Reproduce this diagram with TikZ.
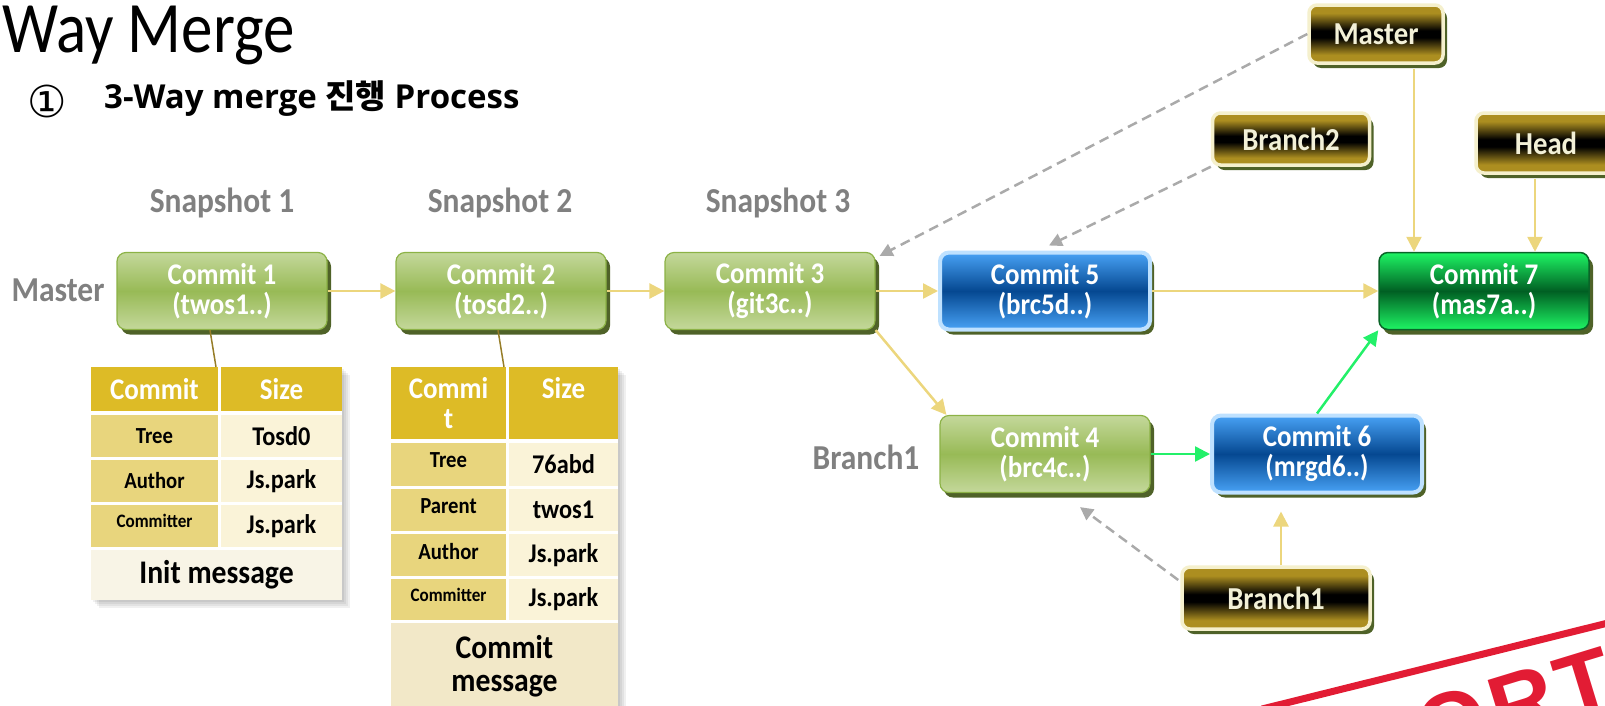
\documentclass[tikz,border=0pt]{standalone}
\usepackage{fontspec}
\usetikzlibrary{shadows,arrows.meta,calc}
\newfontfamily\cf{Carlito}[FakeStretch=0.9]
\newfontfamily\tf{Carlito}
\newfontfamily\osf{Open Sans}
\newfontfamily\krf{Noto Sans CJK KR}
\newfontfamily\djf{DejaVu Sans}
\newfontfamily\stf{Liberation Sans}
\newcommand\fsz[1]{\fontsize{#1}{#1}\selectfont}
\definecolor{gtop}{RGB}{196,216,155}
\definecolor{gmid}{RGB}{152,186,86}
\definecolor{gbord}{RGB}{140,178,70}
\definecolor{shol}{RGB}{79,98,40}
\definecolor{btop}{RGB}{72,162,245}
\definecolor{bmid}{RGB}{5,72,145}
\definecolor{bbord}{RGB}{190,225,255}
\definecolor{mtop}{RGB}{30,245,100}
\definecolor{mmid}{RGB}{0,95,35}
\definecolor{mbord}{RGB}{10,100,40}
\definecolor{lgold}{RGB}{172,142,32}
\definecolor{cream}{RGB}{245,240,205}
\definecolor{ltext}{RGB}{242,240,215}
\definecolor{yel}{RGB}{236,214,125}
\definecolor{grn}{RGB}{35,240,105}
\definecolor{dgray}{RGB}{170,170,170}
\definecolor{labgray}{RGB}{128,128,128}
\definecolor{hdrc}{RGB}{221,187,38}
\definecolor{cellL}{RGB}{232,213,125}
\definecolor{cellR}{RGB}{250,243,216}
\definecolor{msgA}{RGB}{248,244,230}
\definecolor{msgB}{RGB}{242,232,200}
\definecolor{tlinec}{RGB}{150,125,40}
\definecolor{stampred}{RGB}{226,28,52}
\pgfdeclareverticalshading{labsh}{100bp}{color(0bp)=(lgold); color(32bp)=(lgold); color(47bp)=(black); color(53bp)=(black); color(68bp)=(lgold); color(100bp)=(lgold)}
\begin{document}
\begin{tikzpicture}[x=1pt,y=-1pt,
  commit/.style={rounded corners=9pt, minimum width=210pt, minimum height=77pt,
    inner sep=0pt, align=center, text=white, font=\cf\bfseries\fsz{30},
    drop shadow={shadow xshift=4pt,shadow yshift=-5pt,fill=shol,opacity=1}},
  gcommit/.style={commit, draw=gbord, line width=1.2pt, top color=gtop, bottom color=gtop, middle color=gmid},
  bcommit/.style={commit, draw=bbord, line width=4pt, top color=btop, bottom color=btop, middle color=bmid},
  mcommit/.style={commit, draw=mbord, line width=1.5pt, top color=mtop, bottom color=mtop, middle color=mmid},
  lab/.style={rounded corners=8pt, draw=cream, line width=3.5pt, shading=labsh,
    text=ltext, font=\cf\bfseries\fsz{32}, inner sep=0pt,
    drop shadow={shadow xshift=4pt,shadow yshift=-5pt,fill=shol,opacity=1}},
  glab/.style={text=labgray, font=\cf\bfseries\fsz{35}, inner sep=0pt},
  ya/.style={draw=yel, line width=2.5pt, -{Triangle[length=15pt,width=15pt]}},
  ga/.style={draw=grn, line width=2.5pt, -{Triangle[length=15pt,width=15pt]}},
  da/.style={draw=dgray, line width=2.5pt, dash pattern=on 10pt off 6pt, -{Triangle[length=13pt,width=13pt]}},
  tl/.style={draw=tlinec, line width=1.5pt},
  hdr/.style={fill=hdrc, text=white, font=\cf\bfseries\fsz{30}, inner sep=0pt, align=center},
  cl/.style={fill=cellL, text=black, font=\cf\bfseries, inner sep=0pt, align=center},
  cr/.style={fill=cellR, text=black, font=\cf\bfseries\fsz{27}, inner sep=0pt, align=center}
]
\useasboundingbox (0,0) rectangle (1605,705);
\clip (0,0) rectangle (1605,705);

% titles
\node[anchor=base west, inner sep=0pt] (title) at (2,52) {\tf\fsz{63}\scalebox{1}[1.15]{Way Merge}};
\node[inner sep=0pt] (num) at (47,101) {\djf\fsz{44}①};
\node[anchor=west, inner sep=0pt] (sub) at (104,99) {\osf\bfseries\fsz{33}3-Way merge {\krf\bfseries 진행} Process};

% gray labels
\node[glab] (s1) at (222,203) {Snapshot 1};
\node[glab] (s2) at (500,203) {Snapshot 2};
\node[glab] (s3) at (778,203) {Snapshot 3};
\node[glab] (gm) at (58,290) {Master};
\node[glab] (gb) at (866,457) {Branch1};

% table 1
\foreach \d in {2,4,6,8} \fill[black,opacity=.06] (91+\d,367+\d) rectangle (342+\d,600+\d);
\fill[white] (91,367) rectangle (342,600);
\node[hdr, minimum width=127pt, minimum height=44pt] (t1h1) at (154.5,389) {Commit};
\node[hdr, minimum width=121pt, minimum height=44pt] (t1h2) at (281.5,389) {Size};
\node[cl, minimum width=127pt, minimum height=42pt] (t1a) at (154.5,436) {\fsz{23}Tree};
\node[cr, minimum width=121pt, minimum height=42pt] (t1b) at (281.5,436) {Tosd0};
\node[cl, minimum width=127pt, minimum height=42pt] (t1c) at (154.5,481) {\fsz{23}Author};
\node[cr, minimum width=121pt, minimum height=42pt] (t1d) at (281.5,481) {Js.park};
\node[cl, minimum width=127pt, minimum height=42pt] (t1e) at (154.5,526) {\fsz{19}Committer\rule[-10pt]{0pt}{0pt}};
\node[cr, minimum width=121pt, minimum height=42pt] (t1f) at (281.5,526) {Js.park};
\node[fill=msgA, minimum width=251pt, minimum height=50pt, inner sep=0pt, font=\cf\bfseries\fsz{33}] (t1g) at (216.5,575) {Init message};

% table 2
\foreach \d in {2,4,6,8} \fill[black,opacity=.06] (391+\d,367+\d) rectangle (618+\d,710);
\fill[white] (391,367) rectangle (618,710);
\node[hdr, minimum width=115pt, minimum height=72pt] (t2h1) at (448.5,403) {Commi\\t};
\node[hdr, minimum width=109pt, minimum height=72pt] (t2h2) at (563.5,403) {Size\\\mbox{}};
\node[cl, minimum width=115pt, minimum height=43pt] (t2a) at (448.5,464.5) {\fsz{23}Tree\rule[-8pt]{0pt}{0pt}};
\node[cr, minimum width=109pt, minimum height=43pt] (t2b) at (563.5,464.5) {76abd};
\node[cl, minimum width=115pt, minimum height=42pt] (t2c) at (448.5,510) {\fsz{23}Parent\rule[-8pt]{0pt}{0pt}};
\node[cr, minimum width=109pt, minimum height=42pt] (t2d) at (563.5,510) {twos1};
\node[cl, minimum width=115pt, minimum height=42pt] (t2e) at (448.5,555) {\fsz{23}Author\rule[-8pt]{0pt}{0pt}};
\node[cr, minimum width=109pt, minimum height=42pt] (t2f) at (563.5,555) {Js.park};
\node[cl, minimum width=115pt, minimum height=41pt] (t2g) at (448.5,599.5) {\fsz{19}Committer\rule[-10pt]{0pt}{0pt}};
\node[cr, minimum width=109pt, minimum height=41pt] (t2h) at (563.5,599.5) {Js.park};
\node[fill=msgB, minimum width=227pt, minimum height=87pt, inner sep=0pt, align=center, font=\cf\bfseries\fsz{33}] (t2i) at (504.5,666.5) {Commit\\message};

% commits
\node[gcommit] (c1) at (222,291) {Commit 1\\(twos1..)};
\node[gcommit] (c2) at (501,291) {Commit 2\\(tosd2..)};
\node[gcommit] (c3) at (770,291) {Commit 3\\(git3c..)};
\node[bcommit] (c5) at (1045,291) {Commit 5\\(brc5d..)};
\node[mcommit] (c7) at (1484,291) {Commit 7\\(mas7a..)};
\node[gcommit] (c4) at (1045,454) {Commit 4\\(brc4c..)};
\node[bcommit] (c6) at (1317,454) {Commit 6\\(mrgd6..)};

% pointer labels
\node[lab, minimum width=134pt, minimum height=58pt] (lm) at (1376,34) {Master};
\node[lab, minimum width=157pt, minimum height=52pt] (lb2) at (1291,139) {Branch2};
\node[lab, minimum width=140pt, minimum height=60pt] (hd) at (1546,143) {Head};
\node[lab, minimum width=188pt, minimum height=62pt] (lb1) at (1276,598) {Branch1};

% table connectors
\coordinate (t1top) at (216,367);
\coordinate (t2top) at (504,367);
\draw[tl] ($(c1.south)+(-12,0)$) -- (t1top);
\draw[tl] ($(c2.south)+(-3,0)$) -- (t2top);

% yellow arrows
\draw[ya] (c1.east) -- (c2.west);
\draw[ya] (c2.east) -- (c3.west);
\draw[ya] (c3.east) -- (c5.west);
\draw[ya] (c5.east) -- (c7.west);
\draw[ya] (c3.south east) -- ($(c4.north west)+(7,0)$);
\coordinate (mA) at ($(lm.south)+(38,4)$);
\draw[ya] (mA) -- (mA |- c7.north);
\coordinate (hA) at ($(hd.south)+(-11,4)$);
\draw[ya] (hA) -- (hA |- c7.north);
\coordinate (bA) at ($(lb1.north)+(5,0)$);
\draw[ya] (bA) -- ($(bA |- c6.south)+(0,17)$);

% green arrows
\draw[ga] (c4.east) -- (c6.west);
\draw[ga] (c6.north) -- (c7.south west);

% gray dashed arrows
\draw[da] (lm.west) -- ($(c3.north east)+(4,4)$);
\draw[da] (lb2.south west) -- ($(c5.north)+(4,-5)$);
\draw[da] ($(lb1.west)+(-2,-18)$) -- ($(c4.south)+(35,14)$);

% stamp
\coordinate (stA) at (1262,709);
\coordinate (stB) at (1612,622);
\draw[stampred, line width=7pt] (stA) -- (stB);
\node[rotate=17, anchor=north east, inner sep=0pt, text=stampred, font=\stf\bfseries\fsz{90}] (stamp) at (1602,645) {R\hspace{5pt}E\hspace{5pt}P\hspace{5pt}O\hspace{5pt}R\hspace{5pt}T};
\end{tikzpicture}
\end{document}
